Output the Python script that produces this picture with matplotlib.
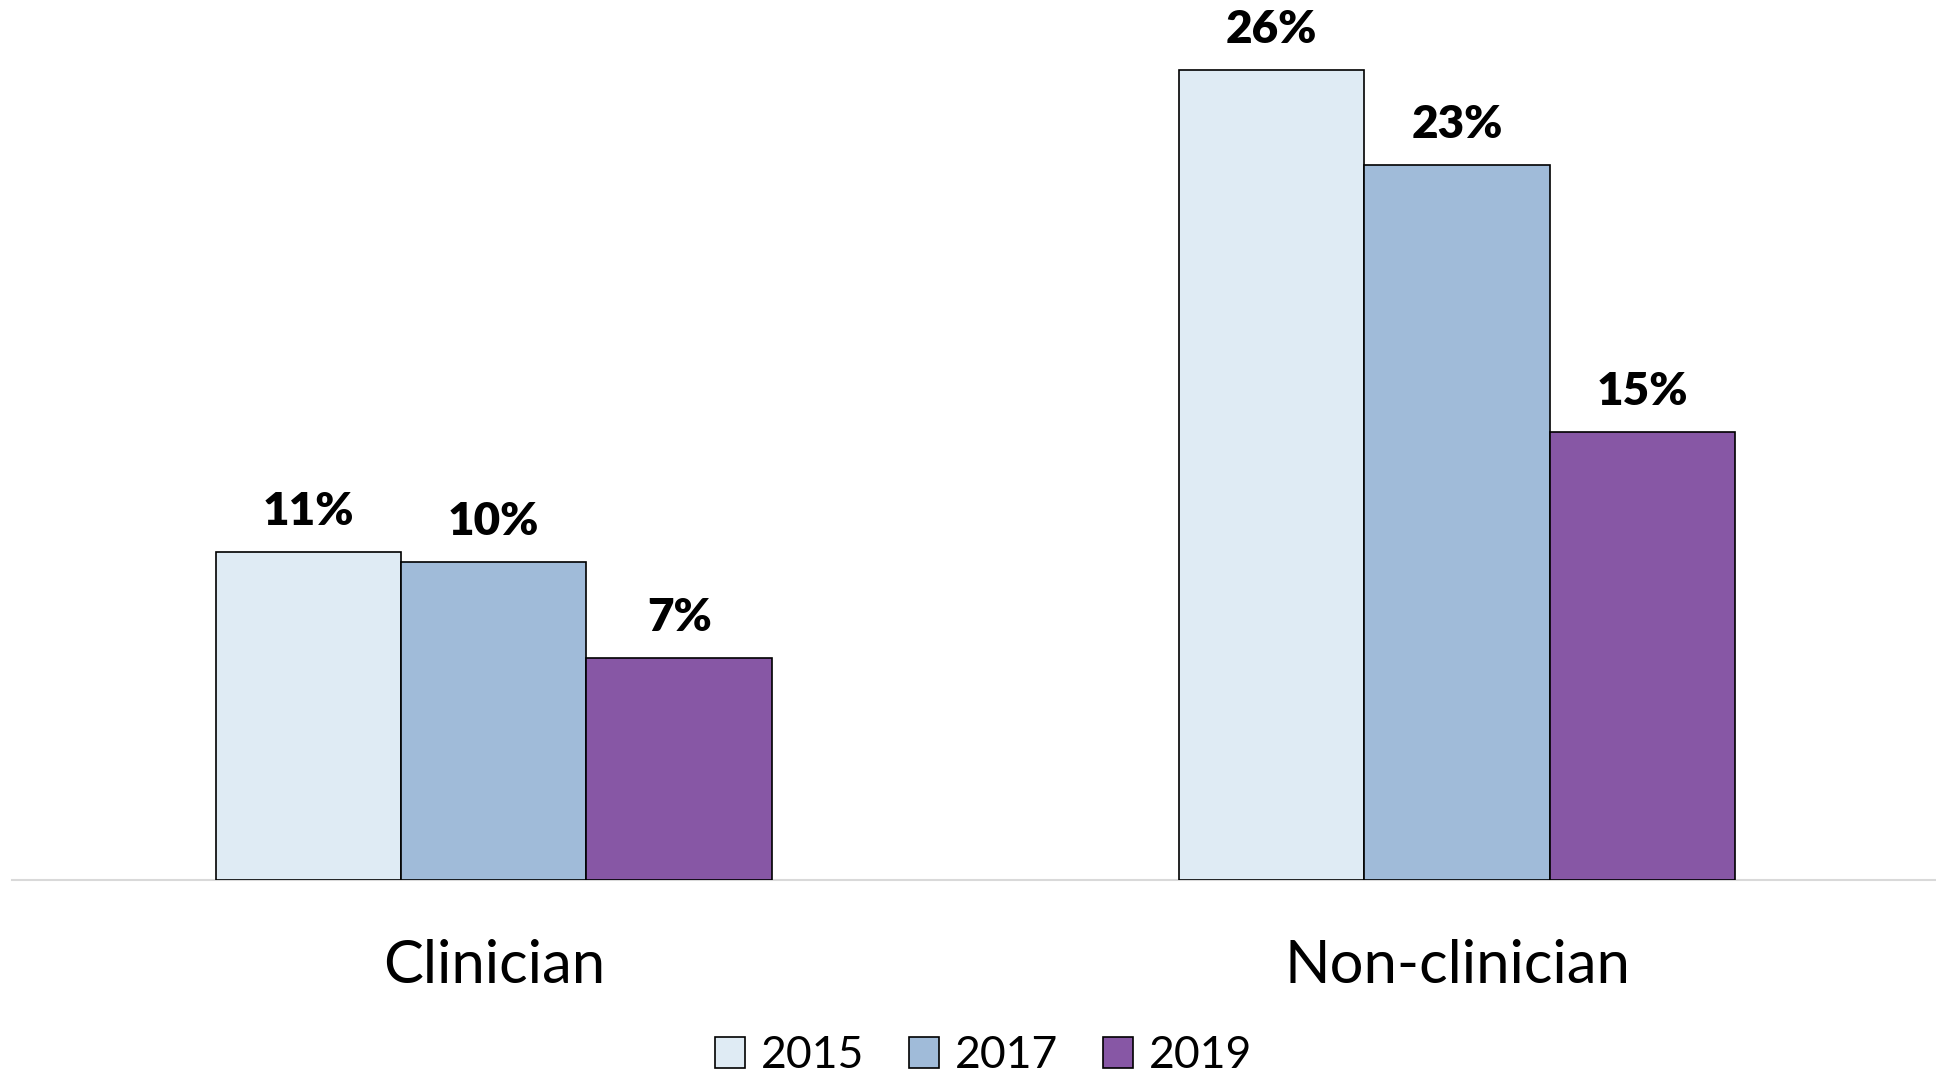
import matplotlib
matplotlib.use("Agg")
import matplotlib.pyplot as plt
import numpy as np
from matplotlib.patches import Patch

categories = ["Clinician", "Non-clinician"]
years = ["2015", "2017", "2019"]
values_2015 = [10.66, 26.35]
values_2017 = [10.35, 23.24]
values_2019 = [7.23, 14.57]
series = [values_2015, values_2017, values_2019]
colors = ["#DFEBF4", "#A0BBD9", "#8757A5"]

W, H = 1936, 1078
fig = plt.figure(figsize=(W / 100, H / 100), dpi=100)
ax = fig.add_axes([12 / W, 198 / H, 1 - 12 / W, 880 / H])

x = np.arange(len(categories))
bw = 0.1925
for i, (vals, col) in enumerate(zip(series, colors)):
    bars = ax.bar(x + (i - 1) * bw, vals, width=bw, color=col,
                  edgecolor="black", linewidth=1.2, zorder=3)
    for b, v in zip(bars, vals):
        ax.annotate(f"{round(v):d}%", (b.get_x() + b.get_width() / 2, v),
                    xytext=(0, 19.4), textcoords="offset points",
                    ha="center", va="baseline", fontsize=33,
                    fontweight="heavy", family="Lato", color="black")

ax.set_xlim(-0.5, 1.497)
ax.set_ylim(0, 28.62)
for s in ["top", "right", "left"]:
    ax.spines[s].set_visible(False)
ax.spines["bottom"].set_color("#D9D9D9")
ax.spines["bottom"].set_linewidth(1.5)
ax.set_yticks([])
ax.set_xticks(x)
ax.set_xticklabels(categories, fontsize=43, family="Lato")
ax.tick_params(axis="x", length=0, pad=74)
for lbl in ax.get_xticklabels():
    lbl.set_verticalalignment("baseline")

handles = [Patch(facecolor=c, edgecolor="black", linewidth=1.2, label=y)
           for c, y in zip(colors, years)]
leg = fig.legend(handles=handles, loc="lower center", ncol=3,
                 bbox_to_anchor=(0.508, 0.002), frameon=False,
                 prop={"family": "Lato", "size": 32},
                 handlelength=0.68, handleheight=0.68,
                 handletextpad=0.36, columnspacing=1.0, borderpad=0,
                 borderaxespad=0)

fig.savefig("out.png", dpi=100)
